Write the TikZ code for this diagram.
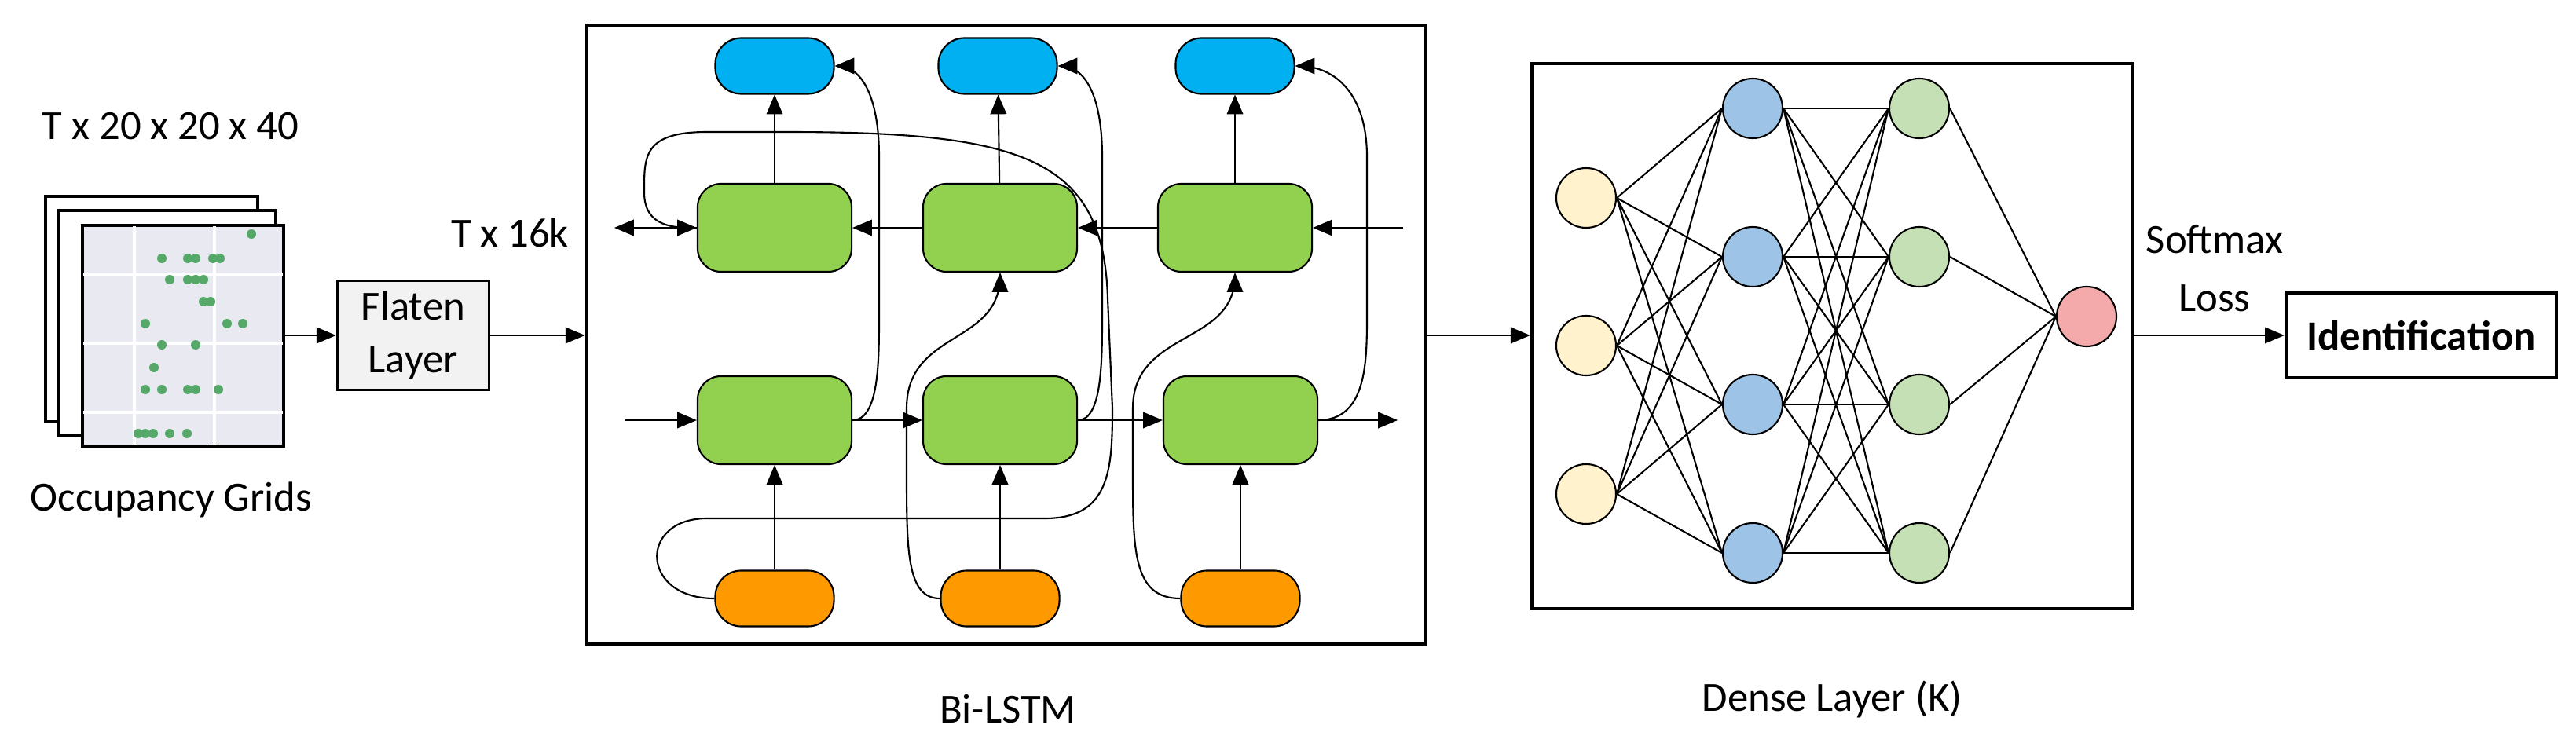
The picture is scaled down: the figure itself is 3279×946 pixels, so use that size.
\documentclass[tikz,border=0pt]{standalone}
\usepackage{fontspec}
\setmainfont{Carlito}
\usetikzlibrary{arrows, positioning, calc}
\definecolor{outblue}{HTML}{00B0F0}
\definecolor{cellgreen}{HTML}{92D050}
\definecolor{inorange}{HTML}{FF9900}
\definecolor{inyellow}{HTML}{FFF2CC}
\definecolor{hidblue}{HTML}{9DC3E6}
\definecolor{hidgreen}{HTML}{C5E0B4}
\definecolor{outred}{HTML}{F4AAAA}
\definecolor{gridbg}{HTML}{E9EAF1}
\definecolor{dotgreen}{HTML}{55A868}

\begin{document}
\begin{tikzpicture}[x=0.01cm, y=-0.01cm, font=\fontsize{15}{17}\selectfont,
    line width=0.6pt, >=triangle 45,
    cell/.style={draw, rounded corners=0.3cm, minimum width=1.96cm, minimum height=1.12cm, fill=cellgreen},
    io/.style={draw, rounded corners=0.33cm, minimum width=1.51cm, minimum height=0.71cm},
    neuron/.style={draw, circle, minimum size=0.76cm, inner sep=0pt},
    frame/.style={draw, line width=1.2pt}]
    \useasboundingbox (0,0) rectangle (3279,946);
    % occupancy grids
    \draw[line width=1pt] (58,250) rectangle (328,537);
    \draw[line width=1pt, fill=white] (74,268) rectangle (351,554);
    \node[draw, line width=1pt, fill=gridbg, minimum width=2.56cm, minimum height=2.81cm, inner sep=0pt] (grid) at (233,427.5) {};
    \foreach \gx in {171, 273} \draw[white, line width=1pt] (\gx,288) -- (\gx,567);
    \foreach \gy in {350, 437, 525} \draw[white, line width=1pt] (106,\gy) -- (360,\gy);
    \foreach \dx/\dy in {320/298, 206/329, 239/329, 249/329, 271/329, 280/329,
        216/356, 239/356, 249/356, 259/356, 259/384, 268/384, 185/412, 289/412, 309/412,
        206/439, 249/439, 196/468, 185/496, 206/496, 239/496, 249/496, 278/496,
        176/552, 185/552, 195/552, 216/552, 238/552}
        \fill[dotgreen] (\dx,\dy) circle (6);
    \node (gridsize) at (217,161) {T x 20 x 20 x 40};
    \node (gridname) at (218,636) {Occupancy Grids};
    \node[draw, line width=1pt, fill=black!5, minimum width=1.93cm, minimum height=1.39cm, align=center, inner sep=0pt, font=\fontsize{15}{19}\selectfont] (flat) at (526,427) {Flaten\\Layer};
    \draw[->] (grid.east |- flat) -- (flat.west);
    \node (flatsize) at (649,296) {T x 16k};
    % bi-lstm
    \node[frame, minimum width=10.67cm, minimum height=7.88cm, inner sep=0pt] (lstm) at (1280.5,426) {};
    \node (lstmname) at (1283,903) {Bi-LSTM};
    \draw[->] (flat.east) -- (lstm.west |- flat);
    \node[io, fill=outblue] (b1) at (986,84) {};
    \node[io, fill=outblue] (b2) at (1270,84) {};
    \node[io, fill=outblue] (b3) at (1572,84) {};
    \node[cell] (t1) at (986,290) {};
    \node[cell] (t2) at (1273,290) {};
    \node[cell] (t3) at (1572,290) {};
    \node[cell] (d1) at (986,535) {};
    \node[cell] (d2) at (1273,535) {};
    \node[cell] (d3) at (1579,535) {};
    \node[io, fill=inorange] (o1) at (986,762) {};
    \node[io, fill=inorange] (o2) at (1273,762) {};
    \node[io, fill=inorange] (o3) at (1579,762) {};
    \coordinate (bwin) at (1786,290);
    \coordinate (bwout) at (782,290);
    \coordinate (fwin) at (796,535);
    \coordinate (fwout) at (1779,535);
    \draw[->] (bwin) -- (t3);
    \draw[->] (t3) -- (t2);
    \draw[->] (t2) -- (t1);
    \draw[->] (t1) -- (bwout);
    \draw[->] (fwin) -- (d1);
    \draw[->] (d1) -- (d2);
    \draw[->] (d2) -- (d3);
    \draw[->] (d3) -- (fwout);
    \foreach \i in {1,2,3} {
        \draw[->] (o\i) -- (d\i);
        \draw[->] (t\i) -- (b\i);
    }
    \draw[->] (o1.west) .. controls (815,762) and (812,660) .. (900,660) -- (1330,660)
        .. controls (1412,660) and (1416,600) .. (1416,520) -- (1410,380)
        .. controls (1405,200) and (1300,168) .. (1000,168) -- (900,168)
        .. controls (818,168) and (820,200) .. (820,245) .. controls (820,290) and (860,290) .. (t1.west);
    \draw[->] (o2.west) .. controls (1154,762) and (1154,700) .. (1154,600) -- (1154,520)
        .. controls (1154,420) and (1273,440) .. (t2.south);
    \draw[->] (o3.west) .. controls (1442,762) and (1442,700) .. (1442,600) -- (1442,520)
        .. controls (1442,420) and (1572,440) .. (t3.south);
    \draw[->] (d1.east) .. controls (1119,535) and (1119,460) .. (1119,400) -- (1119,200)
        .. controls (1119,120) and (1095,84) .. (b1.east);
    \draw[->] (d2.east) .. controls (1403,535) and (1403,460) .. (1403,400) -- (1403,200)
        .. controls (1403,120) and (1380,84) .. (b2.east);
    \draw[->] (d3.east) .. controls (1740,535) and (1740,460) .. (1740,400) -- (1740,200)
        .. controls (1740,120) and (1700,84) .. (b3.east);
    % dense layer
    \node[frame, minimum width=7.65cm, minimum height=6.94cm, inner sep=0pt] (dense) at (2332.5,428) {};
    \node (densename) at (2332,890) {Dense Layer (K)};
    \draw[->] (lstm.east |- 0,427) -- (dense.west |- 0,427);
    \foreach \i/\ny in {1/252, 2/440, 3/629}
        \node[neuron, fill=inyellow] (y\i) at (2019,\ny) {};
    \foreach \i/\ny in {1/138, 2/327, 3/515, 4/704} {
        \node[neuron, fill=hidblue] (h\i) at (2231,\ny) {};
        \node[neuron, fill=hidgreen] (g\i) at (2443,\ny) {};
    }
    \node[neuron, fill=outred] (r) at (2656,403) {};
    \foreach \i in {1,2,3} \foreach \j in {1,...,4} \draw (y\i.east) -- (h\j.west);
    \foreach \i in {1,...,4} \foreach \j in {1,...,4} \draw (h\i.east) -- (g\j.west);
    \foreach \i in {1,...,4} \draw (g\i.east) -- (r.west);
    % output
    \node[frame, minimum width=3.44cm, minimum height=1.08cm, font=\bfseries\fontsize{15}{17}\selectfont] (ident) at (3082,427) {Identification};
    \draw[->] (dense.east |- ident) -- (ident.west);
    \node[align=center, font=\fontsize{15}{21}\selectfont] (loss) at (2819,342) {Softmax\\Loss};
\end{tikzpicture}
\end{document}
